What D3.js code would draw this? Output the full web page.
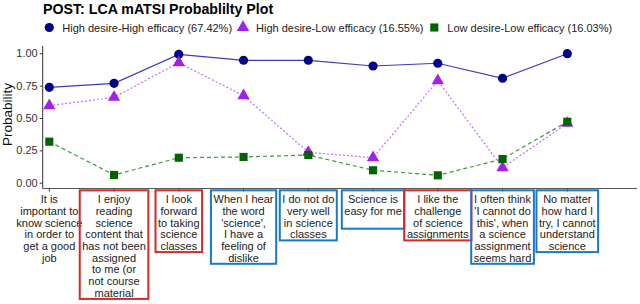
<!DOCTYPE html>
<html>
<head>
<meta charset="utf-8">
<script src="https://cdn.jsdelivr.net/npm/d3@7"></script>
<style>
  body { margin: 0; background: #fff; }
  svg { font-family: "Liberation Sans", Arial, sans-serif; }
</style>
</head>
<body>
<div id="viz"></div>
<script>
// items of the mATSI survey, as wrapped on the x axis
const items = [
  ["It is", "important to", "know science", "in order to", "get a good", "job"],
  ["I enjoy", "reading", "science", "content that", "has not been", "assigned", "to me (or", "not course", "material"],
  ["I look", "forward", "to taking", "science", "classes"],
  ["When I hear", "the word", "'science',", "I have a", "feeling of", "dislike"],
  ["I do not do", "very well", "in science", "classes"],
  ["Science is", "easy for me"],
  ["I like the", "challenge", "of science", "assignments"],
  ["I often think", "'I cannot do", "this', when", "a science", "assignment", "seems hard"],
  ["No matter", "how hard I", "try, I cannot", "understand", "science"]
];
// which items are boxed, and in what colour group
const itemGroup = [null, "pos", "pos", "neg", "neg", "neg", "pos", "neg", "neg"];

const classNames = [
  "High desire-High efficacy (67.42%)",
  "High desire-Low efficacy (16.55%)",
  "Low desire-Low efficacy (16.03%)"
];
const highHigh = [0.737, 0.768, 0.992, 0.946, 0.946, 0.902, 0.923, 0.807, 0.997];
const highLow  = [0.595, 0.660, 0.927, 0.672, 0.235, 0.193, 0.788, 0.116, 0.459];
const lowLow   = [0.317, 0.060, 0.193, 0.199, 0.214, 0.096, 0.057, 0.183, 0.471];
const yTicks = [0, 0.25, 0.5, 0.75, 1];

const width = 640, height = 304;
const svg = d3.select("#viz").append("svg")
  .attr("width", width).attr("height", height);

const idx = d3.range(items.length);
const x = d3.scalePoint().domain(idx).range([49.3, 567.3]);
const y = d3.scaleLinear().domain([0, 1]).range([182.7, 53.3]);

const series = [
  { name: classNames[0], values: highHigh, color: "#00008B", line: "#3c3cc0", dash: null, shape: d3.symbolCircle, size: 66 },
  { name: classNames[1], values: highLow, color: "#A020F0", line: "#c86cf5", dash: "2,2", shape: d3.symbolTriangle, size: 66 },
  { name: classNames[2], values: lowLow, color: "#006400", line: "#3d993d", dash: "4,3", shape: d3.symbolSquare, size: 66 }
];

// title
svg.append("text")
  .attr("x", 43).attr("y", 14)
  .attr("font-size", 14.2).attr("font-weight", "bold")
  .attr("fill", "#000")
  .text("POST: LCA mATSI Probablilty Plot");

// legend
const legendX = [49.3, 243, 434.3];
const legend = svg.append("g");
series.forEach((s, i) => {
  const g = legend.append("g").attr("transform", `translate(${legendX[i]},27.5)`);
  g.append("path")
    .attr("d", d3.symbol().type(s.shape).size(s.size)())
    .attr("fill", s.color);
  g.append("text")
    .attr("x", 13).attr("y", 4)
    .attr("font-size", 11).attr("fill", "#222")
    .text(s.name);
});

// y axis
const yAxis = svg.append("g")
  .attr("transform", "translate(42.7,0)")
  .call(d3.axisLeft(y).tickValues(yTicks).tickFormat(d3.format(".2f")).tickSize(3).tickPadding(2));
yAxis.select(".domain").remove();
yAxis.selectAll("text").attr("font-size", 11).attr("fill", "#333").attr("font-family", null);
yAxis.selectAll(".tick line").attr("stroke", "#333");
svg.append("line")
  .attr("x1", 42.7).attr("x2", 42.7).attr("y1", 46).attr("y2", 188.5)
  .attr("stroke", "#333");

svg.append("text")
  .attr("transform", "translate(12,114.5) rotate(-90)")
  .attr("text-anchor", "middle")
  .attr("font-size", 13.5).attr("fill", "#111")
  .text("Probability");

// x axis
svg.append("line")
  .attr("x1", 42.7).attr("x2", 637).attr("y1", 188.5).attr("y2", 188.5)
  .attr("stroke", "#555");
svg.append("g").selectAll("line").data(idx).join("line")
  .attr("x1", d => x(d)).attr("x2", d => x(d))
  .attr("y1", 188.5).attr("y2", 191.5)
  .attr("stroke", "#333");

const lineH = 11.7;
const labels = svg.append("g").selectAll("g").data(idx).join("g");
labels.each(function (d) {
  const g = d3.select(this);
  const t = g.append("text")
    .attr("text-anchor", "middle")
    .attr("font-size", 11).attr("fill", "#222");
  items[d].forEach((ln, k) => {
    t.append("tspan")
      .attr("x", x(d))
      .attr("y", 203.2 + k * lineH)
      .text(ln);
  });
  if (itemGroup[d]) {
    const bb = t.node().getBBox();
    const w = bb.width + 5;
    const n = Math.max(items[d].length, 3);
    g.insert("rect", "text")
      .attr("x", x(d) - w / 2)
      .attr("y", 190.3)
      .attr("width", w)
      .attr("height", (199.3 + (n - 1) * lineH + 6) - 190.3)
      .attr("fill", "none")
      .attr("stroke", itemGroup[d] === "pos" ? "#d22b2b" : "#1a78c8")
      .attr("stroke-width", 2);
  }
});

// lines and markers
const line = d3.line().x((v, i) => x(i)).y(v => y(v));
series.forEach(s => {
  svg.append("path")
    .datum(s.values)
    .attr("d", line)
    .attr("fill", "none")
    .attr("stroke", s.line)
    .attr("stroke-width", 1.2)
    .attr("stroke-dasharray", s.dash);
});
series.forEach(s => {
  svg.append("g").selectAll("path").data(s.values).join("path")
    .attr("transform", (v, i) => `translate(${x(i)},${y(v)})`)
    .attr("d", d3.symbol().type(s.shape).size(s.size)())
    .attr("fill", s.color);
});
</script>
</body>
</html>
